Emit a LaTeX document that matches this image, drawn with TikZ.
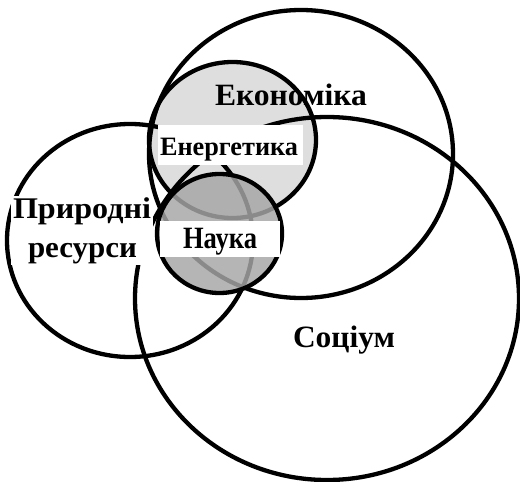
\documentclass[tikz,border=0pt]{standalone}
\usepackage{fontspec}
\setmainfont{Liberation Serif}
\definecolor{enfill}{HTML}{DEDEDE}
\definecolor{scfill}{gray}{0.65}
\newcommand\fitw[2]{\setbox0\hbox{#2}\pgfmathsetmacro\myratio{#1/\the\wd0}\scalebox{\myratio}[1]{\box0}}
\begin{document}
\begin{tikzpicture}[x=1pt,y=-1pt,
  ring/.style={draw=black, line width=4.3pt},
  lbl/.style={font=\bfseries\fontsize{#1}{#1}\selectfont, inner sep=0pt, anchor=base},
  lbl/.default=31]
\useasboundingbox (0,0) rectangle (520,482);
% energy fill
\fill[enfill] (232.5,140) ellipse [x radius=83.5, y radius=78];
% big circles
\draw[ring] (130,240.5) ellipse [x radius=123, y radius=116.5];
\draw[ring] (327,298.5) ellipse [x radius=192, y radius=181.5];
\draw[ring] (301,154) ellipse [x radius=152, y radius=144];
% energy outline
\draw[ring] (232.5,140) ellipse [x radius=83.5, y radius=78];
% science
\fill[scfill, fill opacity=0.83] (219.5,233.5) ellipse [x radius=62.5, y radius=59.5];
\draw[ring] (219.5,233.5) ellipse [x radius=62.5, y radius=59.5];
% label boxes
\fill[white] (158,125) rectangle (303,165);
\fill[white] (160,221) rectangle (280,257);
\fill[white] (11,196) rectangle (153,265);
% labels
\node[lbl] (econ) at (291,105) {\fitw{152}{Економіка}};
\node[lbl=26.5] (energy) at (229,155) {\fitw{138}{Енергетика}};
\node[lbl] (science) at (220,248) {\fitw{74}{Наука}};
\node[lbl=30] (nat1) at (82,218) {\fitw{138}{Природні}};
\node[lbl=30] (nat2) at (82.5,257) {\fitw{109}{ресурси}};
\node[lbl] (soc) at (344,347) {\fitw{102}{Соціум}};
\end{tikzpicture}
\end{document}
